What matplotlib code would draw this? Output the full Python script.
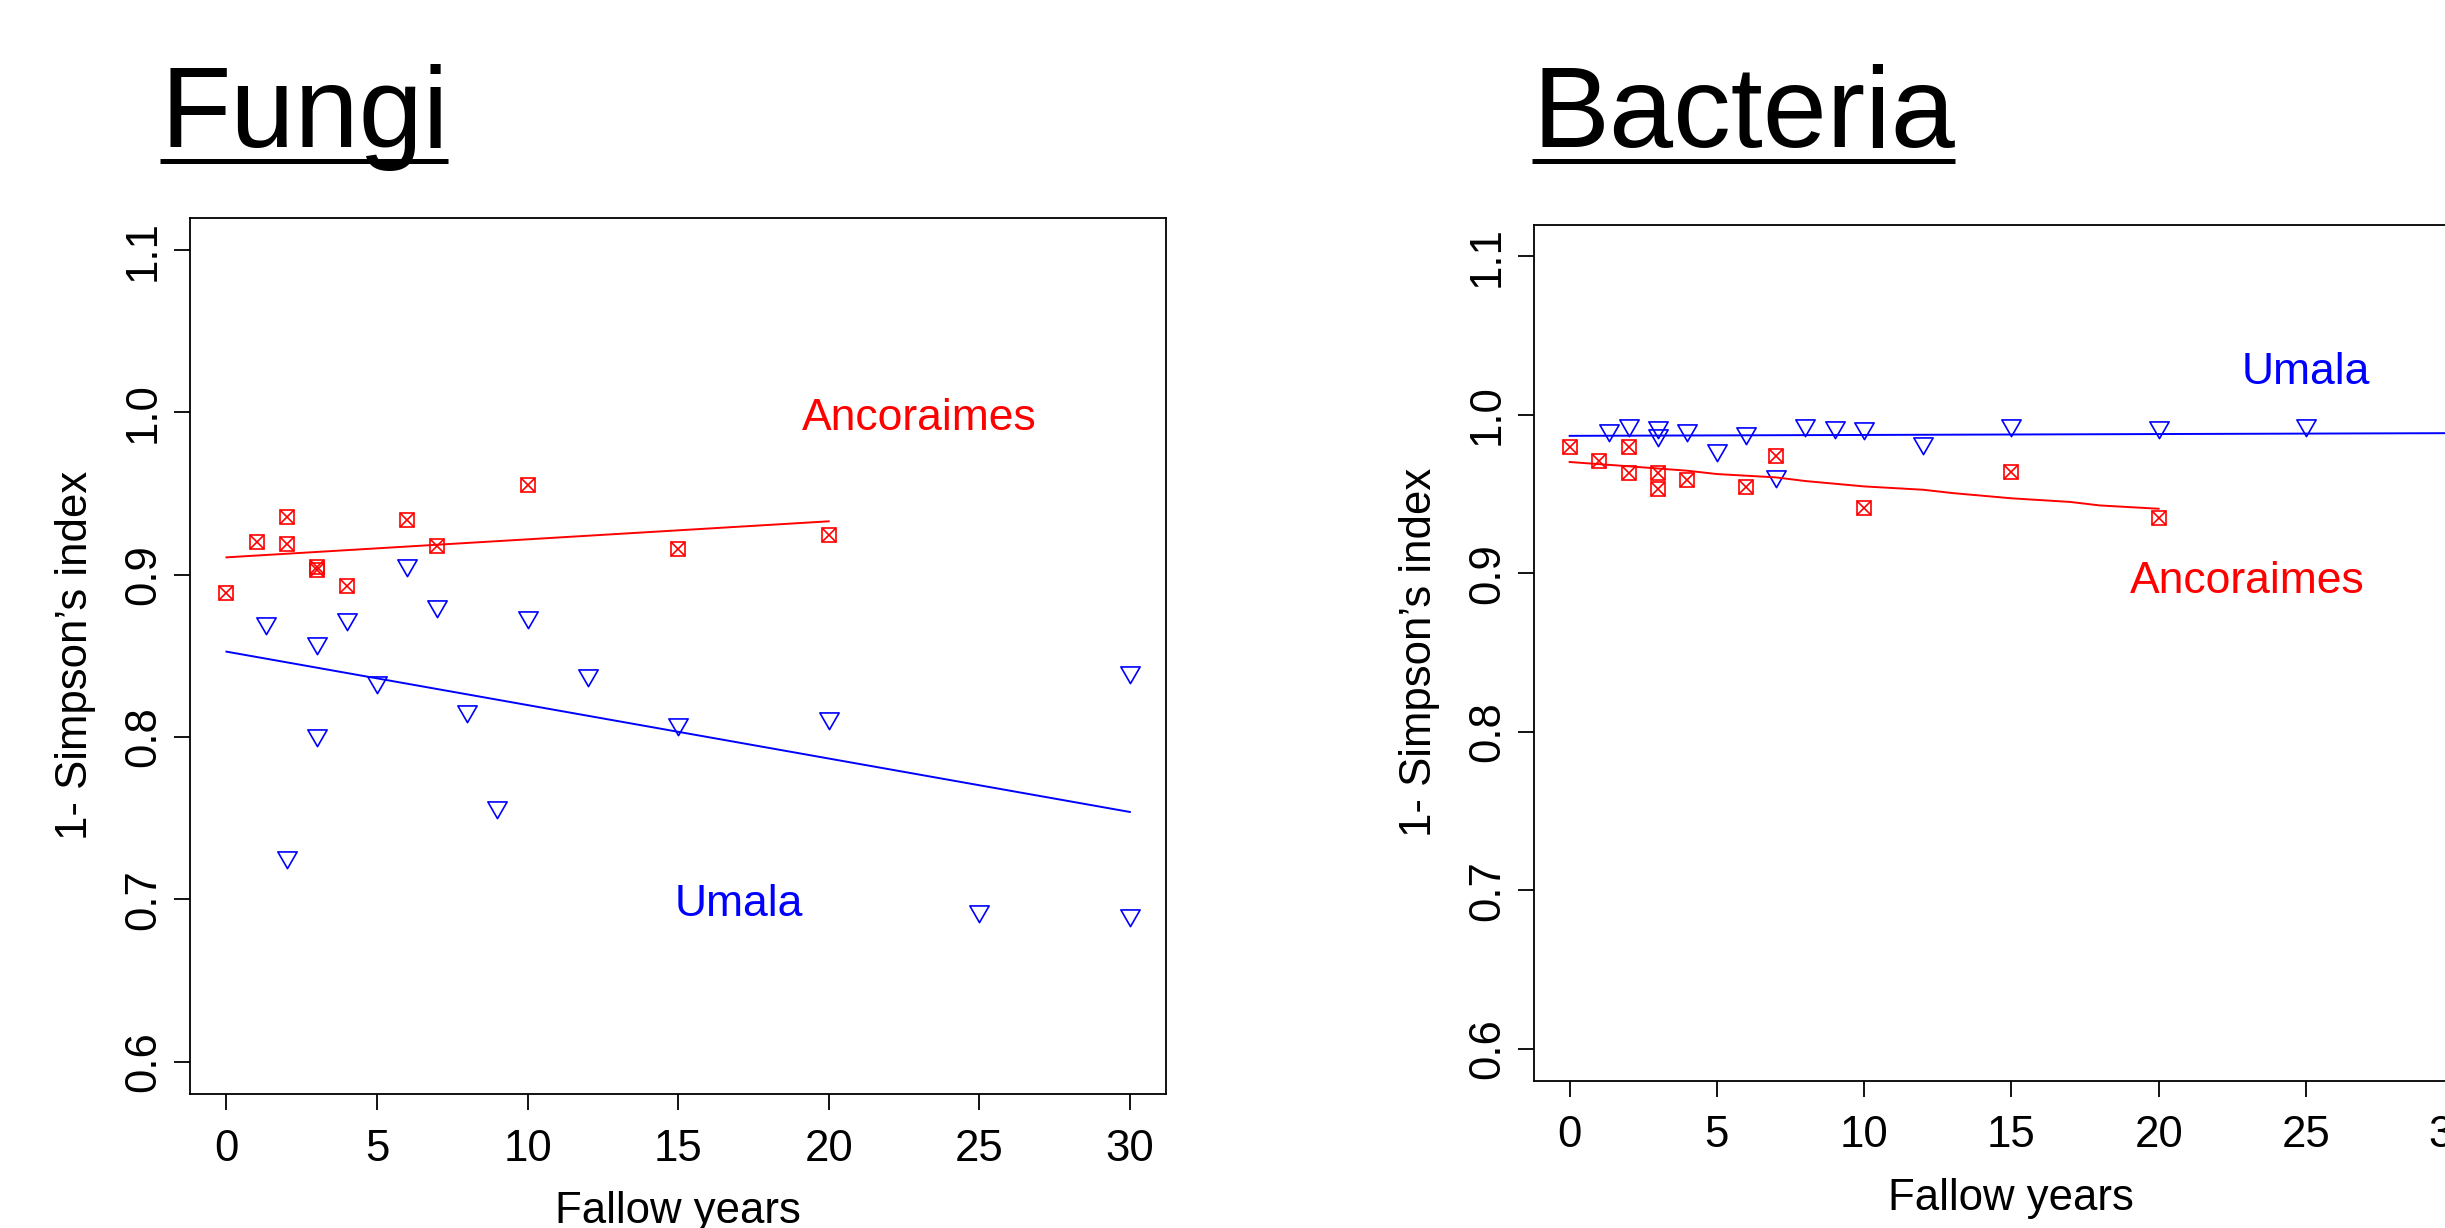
import matplotlib
matplotlib.use("Agg")
import matplotlib.pyplot as plt
from matplotlib.lines import Line2D
from matplotlib.path import Path

plt.rcParams["font.family"] = ["Liberation Sans", "DejaVu Sans"]

# ---- Fungi ----
fungi_anc_years = [0, 1, 2, 2, 3, 3, 4, 6, 7, 10, 15, 20]
fungi_anc_simpson = [0.889, 0.920, 0.9355, 0.919, 0.903, 0.9045, 0.893, 0.934, 0.918, 0.955, 0.9156, 0.9244]
fungi_uma_years = [1.33, 2, 3, 3, 4, 5, 6, 7, 8, 9, 10, 12, 15, 20, 25, 30, 30]
fungi_uma_simpson = [0.870, 0.726, 0.858, 0.801, 0.873, 0.834, 0.906, 0.881, 0.816, 0.757,
                     0.874, 0.838, 0.808, 0.812, 0.693, 0.840, 0.690]
fungi_anc_fit_x = [0, 20]
fungi_anc_fit_y = [0.9107, 0.9329]
fungi_uma_fit_x = [0, 30]
fungi_uma_fit_y = [0.8526, 0.7538]

# ---- Bacteria ----
bac_anc_years = [0, 1, 2, 2, 3, 3, 4, 6, 7, 10, 15, 20]
bac_anc_simpson = [0.9796, 0.9709, 0.9798, 0.9632, 0.9632, 0.9533, 0.9587, 0.9543, 0.9743, 0.9411, 0.964, 0.935]
bac_uma_years = [1.33, 2, 3, 3, 4, 5, 6, 7, 8, 9, 10, 12, 15, 20, 25]
bac_uma_simpson = [0.9906, 0.9936, 0.9926, 0.9876, 0.9902, 0.9776, 0.9886, 0.9612, 0.9936, 0.9926,
                   0.9916, 0.9826, 0.9934, 0.9926, 0.9936]
bac_anc_fit_x = [0, 2, 4, 5, 7, 8, 10, 12, 13, 15, 17, 18, 20]
bac_anc_fit_y = [0.9703, 0.9676, 0.9648, 0.9627, 0.9606, 0.9583, 0.9549, 0.9528, 0.9507,
                 0.9474, 0.9451, 0.9429, 0.9408]
bac_uma_fit_x = [0, 30]
bac_uma_fit_y = [0.9868, 0.9885]

x_ticks = [0, 5, 10, 15, 20, 25, 30]
y_ticks = [0.6, 0.7, 0.8, 0.9, 1.0, 1.1]

W, H = 2445, 1228
RED = "#FF0000"
BLUE = "#0000FF"

# R style down triangle (pch = 6), centred on its centroid
tri_down = Path([(-1.3468, 0.7776), (1.3468, 0.7776), (0.0, -1.5551), (-1.3468, 0.7776)], closed=True)


def setup_axes(ax):
    ax.set_xlim(-1.2, 31.2)
    ax.set_ylim(0.58, 1.12)
    ax.set_xticks(x_ticks)
    ax.set_yticks(y_ticks)
    ax.set_yticklabels([f"{v:.1f}" for v in y_ticks], rotation=90, va="center")
    for sp in ax.spines.values():
        sp.set_linewidth(1.3)
    ax.tick_params(direction="out", length=11.5, width=1.3, labelsize=31.5)
    ax.tick_params(axis="x", pad=13.5)
    ax.tick_params(axis="y", pad=7.5)
    ax.set_xlabel("Fallow years", fontsize=31.5, va="center")
    ax.set_ylabel("1- Simpson\u2019s index", fontsize=31.5, va="center")


def draw_group(ax, anc_x, anc_y, uma_x, uma_y, afx, afy, ufx, ufy):
    ax.plot(anc_x, anc_y, ls="none", marker="s", ms=10, mfc="none", mec=RED, mew=1.2)
    ax.plot(anc_x, anc_y, ls="none", marker="x", ms=10, mec=RED, mew=1.2)
    ax.plot(uma_x, uma_y, ls="none", marker=tri_down, ms=16, mfc="none", mec=BLUE, mew=1.2)
    ax.plot(afx, afy, color=RED, lw=1.4)
    ax.plot(ufx, ufy, color=BLUE, lw=1.4)


fig = plt.figure(figsize=(W / 100, H / 100), dpi=100)

# axes boxes in pixel units: left, top, right, bottom
fungi_box = (190.3, 217.7, 1166.0, 1094.0)
bac_box = (1534.3, 224.7, 2488.5, 1080.7)


def add_axes_px(box):
    l, t, r, b = box
    return fig.add_axes([l / W, 1 - b / H, (r - l) / W, (b - t) / H])


ax1 = add_axes_px(fungi_box)
ax2 = add_axes_px(bac_box)

for ax, box in ((ax1, fungi_box), (ax2, bac_box)):
    setup_axes(ax)
    wpx = box[2] - box[0]
    hpx = box[3] - box[1]
    ax.xaxis.set_label_coords(0.5, -118 / hpx)
    ax.yaxis.set_label_coords(-115 / wpx, 0.5)

draw_group(ax1, fungi_anc_years, fungi_anc_simpson, fungi_uma_years, fungi_uma_simpson,
           fungi_anc_fit_x, fungi_anc_fit_y, fungi_uma_fit_x, fungi_uma_fit_y)
draw_group(ax2, bac_anc_years, bac_anc_simpson, bac_uma_years, bac_uma_simpson,
           bac_anc_fit_x, bac_anc_fit_y, bac_uma_fit_x, bac_uma_fit_y)

ax1.text(23, 0.996, "Ancoraimes", color=RED, fontsize=32, ha="center", va="center")
ax1.text(17, 0.697, "Umala", color=BLUE, fontsize=32, ha="center", va="center")
ax2.text(25, 1.027, "Umala", color=BLUE, fontsize=32, ha="center", va="center")
ax2.text(23, 0.895, "Ancoraimes", color=RED, fontsize=32, ha="center", va="center")

# underlined panel titles
titles = [("Fungi", 160), ("Bacteria", 1532)]
title_objs = []
for name, xpx in titles:
    title_objs.append(fig.text(xpx / W, 1 - 147 / H, name, fontsize=83, ha="left", va="baseline"))

fig.canvas.draw()
for t in title_objs:
    bb = t.get_window_extent()
    y = 1 - 161 / H
    fig.add_artist(Line2D([bb.x0 / W, bb.x1 / W], [y, y], transform=fig.transFigure,
                          color="black", lw=3.6, solid_capstyle="butt"))

fig.savefig("out.png", dpi=100)
plt.close(fig)
